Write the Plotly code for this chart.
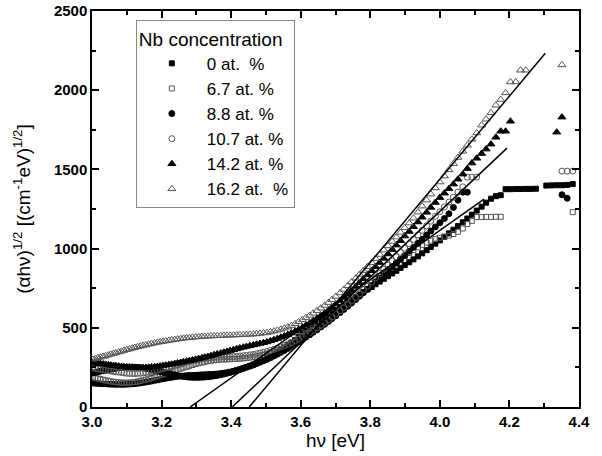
import plotly.graph_objects as go

# photon energy grid (eV) of the measured spectra
photon_energy_ev = [
    3.002, 3.010, 3.017, 3.024, 3.032, 3.039, 3.047, 3.054, 3.062, 3.069,
    3.077, 3.085, 3.092, 3.100, 3.108, 3.116, 3.123, 3.131, 3.139, 3.147,
    3.155, 3.163, 3.171, 3.180, 3.188, 3.196, 3.204, 3.212, 3.221, 3.229,
    3.238, 3.246, 3.255, 3.263, 3.272, 3.280, 3.289, 3.298, 3.307, 3.316,
    3.324, 3.333, 3.342, 3.351, 3.360, 3.370, 3.379, 3.388, 3.397, 3.407,
    3.416, 3.425, 3.435, 3.444, 3.454, 3.464, 3.473, 3.483, 3.493, 3.503,
    3.513, 3.523, 3.533, 3.543, 3.553, 3.563, 3.573, 3.584, 3.594, 3.605,
    3.615, 3.626, 3.636, 3.647, 3.658, 3.669, 3.680, 3.690, 3.701, 3.713,
    3.724, 3.735, 3.746, 3.758, 3.769, 3.780, 3.792, 3.804, 3.815, 3.827,
    3.839, 3.851, 3.863, 3.875, 3.887, 3.899, 3.912, 3.924, 3.937, 3.949,
    3.962, 3.974, 3.987, 4.000, 4.013, 4.026, 4.039, 4.052, 4.066, 4.079,
    4.092, 4.106, 4.120, 4.133, 4.147, 4.161, 4.175, 4.189, 4.203, 4.218,
    4.232, 4.247, 4.261, 4.276, 4.291, 4.306, 4.321, 4.336, 4.351, 4.366,
    4.382, 4.397,
]

N = None

nb_0 = [
    150, 149, 148, 147, 146, 145, 144, 143, 143, 142,
    142, 142, 142, 143, 144, 145, 147, 149, 151, 154,
    157, 160, 163, 167, 170, 174, 177, 181, 184, 187,
    190, 193, 195, 197, 199, 200, 201, 202, 203, 204,
    205, 206, 207, 208, 210, 212, 215, 218, 222, 227,
    232, 238, 245, 252, 260, 268, 277, 287, 297, 308,
    320, 333, 346, 360, 375, 390, 406, 423, 441, 460,
    480, 500, 520, 535, 550, 566, 582, 598, 614, 630,
    646, 662, 678, 694, 710, 726, 742, 758, 775, 792,
    809, 826, 843, 860, 878, 896, 914, 932, 951, 970,
    990, 1010, 1031, 1052, 1074, 1096, 1119, 1142, 1166, 1190,
    1214, 1240, 1265, 1290, 1315, 1331, 1337, 1375, 1375, 1376,
    1376, 1377, 1377, 1378, N, 1398, 1399, 1400, 1400, 1402,
    1407, N,
]

nb_6_7 = [
    188, 184, 180, 176, 172, 168, 165, 162, 159, 157,
    155, 154, 153, 153, 154, 156, 158, 161, 165, 169,
    173, 178, 183, 189, 194, 200, 205, 211, 217, 223,
    230, 236, 242, 248, 254, 260, 265, 271, 276, 281,
    285, 289, 292, 295, 297, 299, 300, 301, 302, 303,
    304, 305, 307, 309, 312, 315, 319, 324, 329, 335,
    341, 349, 357, 366, 376, 387, 399, 412, 430, 448,
    466, 483, 500, 518, 536, 554, 572, 590, 608, 627,
    646, 665, 684, 704, 724, 744, 764, 785, 806, 827,
    848, 869, 890, 911, 932, 953, 972, 990, 1008, 1024,
    1038, 1050, 1060, 1068, 1076, 1082, 1092, 1106, 1127, 1155,
    1175, 1199, 1199, 1200, 1200, 1201, 1201, N, N, N,
    N, N, N, N, N, N, N, N, N, N,
    1230, N,
]

nb_8_8 = [
    215, 219, 222, 226, 229, 233, 236, 239, 242, 245,
    247, 249, 251, 252, 252, 252, 251, 250, 248, 246,
    243, 240, 236, 232, 228, 224, 219, 215, 210, 206,
    202, 198, 195, 192, 190, 188, 187, 187, 187, 188,
    189, 191, 193, 196, 199, 203, 208, 213, 218, 224,
    230, 237, 244, 251, 258, 266, 274, 283, 292, 301,
    311, 322, 333, 345, 357, 370, 383, 397, 411, 426,
    441, 456, 472, 488, 505, 522, 540, 558, 576, 596,
    616, 636, 656, 678, 699, 721, 744, 767, 790, 813,
    837, 861, 885, 909, 933, 957, 983, 1008, 1034, 1059,
    1085, 1111, 1137, 1163, 1190, 1220, 1260, 1306, 1356, 1356,
    N, N, N, N, N, N, N, N, N, N,
    N, N, N, N, N, N, N, N, 1340, 1318,
    N, N,
]

nb_10_7 = [
    246, 243, 241, 238, 235, 232, 230, 227, 224, 222,
    220, 218, 215, 213, 212, 211, 211, 212, 213, 215,
    218, 221, 225, 229, 233, 238, 242, 247, 252, 257,
    263, 268, 273, 278, 283, 288, 292, 296, 300, 303,
    306, 309, 311, 313, 315, 316, 317, 318, 318, 319,
    320, 322, 324, 326, 329, 332, 336, 341, 346, 351,
    357, 364, 371, 379, 388, 397, 407, 418, 430, 443,
    456, 470, 485, 500, 516, 533, 551, 569, 588, 608,
    628, 649, 670, 692, 714, 740, 764, 790, 816, 843,
    870, 896, 922, 948, 975, 1002, 1030, 1058, 1086, 1115,
    1144, 1173, 1203, 1233, 1263, 1294, 1325, 1357, 1390, 1451,
    1451, 1451, N, N, N, N, N, N, N, N,
    N, N, N, N, N, N, N, N, 1489, 1489,
    1489, N,
]

nb_14_2 = [
    280, 277, 275, 273, 271, 269, 266, 264, 262, 260,
    258, 256, 254, 252, 251, 250, 249, 248, 248, 248,
    249, 250, 252, 254, 256, 258, 261, 264, 267, 270,
    274, 277, 281, 285, 289, 292, 296, 301, 305, 310,
    314, 319, 324, 330, 335, 340, 345, 350, 356, 362,
    367, 372, 377, 382, 387, 392, 396, 401, 406, 411,
    418, 425, 432, 440, 448, 457, 467, 478, 490, 503,
    516, 530, 545, 561, 577, 594, 612, 630, 650, 671,
    692, 714, 737, 761, 785, 809, 834, 860, 886, 912,
    938, 966, 994, 1022, 1050, 1079, 1108, 1138, 1168, 1198,
    1229, 1260, 1291, 1322, 1350, 1378, 1407, 1438, 1470, 1505,
    1540, 1570, 1600, 1628, 1659, 1703, 1741, 1741, 1804, N,
    N, N, N, N, N, N, N, 1735, 1830, N,
    N, N,
]

nb_16_2 = [
    301, 305, 310, 314, 319, 323, 328, 333, 338, 342,
    347, 352, 357, 362, 366, 371, 375, 380, 384, 388,
    392, 396, 400, 404, 408, 411, 414, 417, 420, 423,
    426, 429, 431, 434, 436, 438, 440, 442, 443, 445,
    446, 447, 448, 449, 450, 451, 452, 453, 453, 454,
    455, 456, 457, 458, 459, 460, 462, 464, 467, 470,
    474, 479, 484, 490, 497, 505, 514, 525, 538, 551,
    564, 578, 592, 608, 624, 641, 659, 678, 698, 720,
    742, 765, 789, 813, 837, 861, 886, 911, 937, 963,
    990, 1017, 1045, 1073, 1102, 1131, 1161, 1192, 1230, 1268,
    1306, 1344, 1383, 1420, 1458, 1497, 1536, 1575, 1614, 1652,
    1690, 1730, 1779, 1817, 1857, 1905, 1941, 1983, 2052, 2052,
    2126, 2126, N, N, N, N, N, N, 2160, N,
    N, N,
]

series_names = ["0 at. \u00a0%", "6.7 at. %", "8.8 at. %",
                "10.7 at. %", "14.2 at. %", "16.2 at. \u00a0%"]
series_values = [nb_0, nb_6_7, nb_8_8, nb_10_7, nb_14_2, nb_16_2]
series_symbols = ["square", "square-open", "circle", "circle-open",
                  "triangle-up", "triangle-up-open"]
series_sizes = [5, 5, 6, 6, 7, 7]

# linear fits (start/end points, eV and (alpha h nu)^1/2)
fit_x = [[3.282, 4.127], [3.403, 4.193], [3.452, 4.303]]
fit_y = [[0, 1312], [0, 1634], [0, 2233]]

# axis ticks
x_tick_values = [3.0, 3.2, 3.4, 3.6, 3.8, 4.0, 4.2, 4.4]
x_tick_labels = ["3.0", "3.2", "3.4", "3.6", "3.8", "4.0", "4.2", "4.4"]
y_tick_values = [0, 500, 1000, 1500, 2000, 2500]
y_tick_labels = ["0", "500", "1000", "1500", "2000", "2500"]

fig = go.Figure()
for name, vals, sym, sz in zip(series_names, series_values, series_symbols, series_sizes):
    is_open = sym.endswith("open")
    fig.add_trace(go.Scatter(
        x=photon_energy_ev, y=vals, mode="markers", name=name,
        marker=dict(symbol=sym, size=sz,
                    color="#555555" if is_open else "black",
                    line=dict(width=1, color="#555555" if is_open else "black")),
    ))

for fx, fy in zip(fit_x, fit_y):
    fig.add_trace(go.Scatter(x=fx, y=fy, mode="lines", showlegend=False,
                             line=dict(color="black", width=1.5)))

FONT = "Liberation Sans, Arial, sans-serif"
tick_font = dict(family=FONT, size=15, color="black", weight="bold")
title_font = dict(family=FONT, size=19, color="black")

fig.update_layout(
    width=602, height=456,
    margin=dict(l=92, r=23, t=11, b=49),
    paper_bgcolor="white", plot_bgcolor="white",
    showlegend=True,
    legend=dict(
        x=0.09, y=0.977, xanchor="left", yanchor="top",
        bgcolor="white", bordercolor="#888888", borderwidth=1,
        font=dict(family=FONT, size=17, color="black"),
        title=dict(text="Nb concentration", font=dict(family=FONT, size=19, color="black")),
        itemwidth=60, tracegroupgap=0,
    ),
    xaxis=dict(
        range=[3.0, 4.4], tickmode="array", tickvals=x_tick_values,
        ticktext=["<b>" + t + "</b>" for t in x_tick_labels],
        ticks="inside", ticklen=7, tickwidth=1.5, tickcolor="black",
        minor=dict(ticks="inside", tick0=3.0, dtick=0.1, ticklen=4, tickwidth=1.5, tickcolor="black"),
        showline=True, linewidth=1.5, linecolor="black", mirror="ticks",
        showgrid=False, zeroline=False, tickfont=tick_font, automargin=False,
        title=dict(text="h\u03bd [eV]", font=title_font, standoff=0),
    ),
    yaxis=dict(
        range=[0, 2500], tickmode="array", tickvals=y_tick_values,
        ticktext=["<b>" + t + "</b>" for t in y_tick_labels],
        ticks="inside", ticklen=7, tickwidth=1.5, tickcolor="black",
        minor=dict(ticks="inside", tick0=0, dtick=250, ticklen=4, tickwidth=1.5, tickcolor="black"),
        showline=True, linewidth=1.5, linecolor="black", mirror="ticks",
        showgrid=False, zeroline=False, tickfont=tick_font, automargin=False,
        title=dict(text="(\u03b1h\u03bd)<sup>1/2</sup> [(cm<sup>-1</sup>eV)<sup>1/2</sup>]",
                   font=title_font, standoff=18),
    ),
)

fig.write_html("out.html", config={"displayModeBar": False},
               post_script="document.body.style.margin='0';document.body.style.padding='0';")
